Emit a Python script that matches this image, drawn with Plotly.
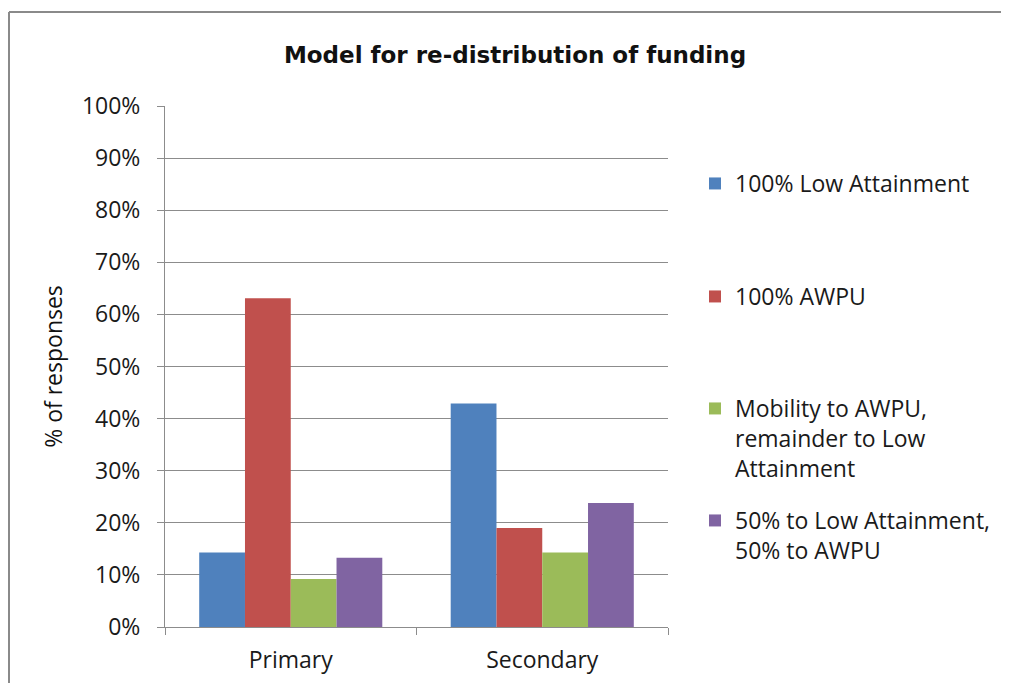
import plotly.graph_objects as go

categories = ["Primary", "Secondary"]
series_names = [
    "100% Low Attainment",
    "100% AWPU",
    "Mobility to AWPU,<br>remainder to Low<br>Attainment",
    "50% to Low Attainment,<br>50% to AWPU",
]
low_attainment = [14.3, 42.9]
awpu = [63.1, 19.0]
mobility = [9.2, 14.3]
fifty_fifty = [13.3, 23.8]
colors = ["#4F81BD", "#C0504D", "#9BBB59", "#8064A2"]
y_ticks = [0, 10, 20, 30, 40, 50, 60, 70, 80, 90, 100]
y_tick_labels = [f"{v}%" for v in y_ticks]

FONT = "Open Sans"
TITLE_FONT = "DejaVu Sans"
values = [low_attainment, awpu, mobility, fifty_fifty]
legend_ids = ["legend", "legend2", "legend3", "legend4"]

# the page body has an 8px margin; lay out in page pixels and shift
OFF = 8
PAGE_W, PAGE_H = 1009, 683
W, H = PAGE_W - OFF, PAGE_H - OFF
L, R, T, B = 165 - OFF, 668 - OFF, 106 - OFF, 627 - OFF
legend_tops = [162 - OFF, 275 - OFF, 387 - OFF, 499 - OFF]

fig = go.Figure()
for name, vals, col, lg in zip(series_names, values, colors, legend_ids):
    fig.add_trace(go.Bar(
        x=categories, y=vals, name=name, legend=lg,
        marker=dict(color=col, line=dict(color=col, width=0)),
    ))

legend_common = dict(
    font=dict(family=FONT, size=23, color="#1a1a1a"),
    xref="container", yref="container",
    xanchor="left", yanchor="top",
    bgcolor="rgba(0,0,0,0)", borderwidth=0,
    valign="top", itemwidth=30,
)
layout_legends = {}
for lg, top in zip(legend_ids, legend_tops):
    layout_legends[lg] = dict(legend_common, x=(695 - OFF) / W, y=1 - top / H)

fig.update_layout(
    width=W, height=H,
    margin=dict(l=L, r=W - R, t=T, b=H - B, pad=0, autoexpand=False),
    paper_bgcolor="white", plot_bgcolor="white",
    barmode="group", bargap=0.272, bargroupgap=0,
    showlegend=True,
    title=dict(
        text="<b>Model for re-distribution of funding</b>",
        font=dict(family=TITLE_FONT, size=23, color="#111111"),
        x=(515 - OFF) / W, xanchor="center", y=1 - (55 - OFF) / H, yanchor="middle",
    ),
    font=dict(family=FONT, color="#1a1a1a"),
    **layout_legends,
)

fig.update_xaxes(
    type="category", tickson="boundaries", automargin=False,
    showline=True, linecolor="#8c8c8c", linewidth=1,
    ticks="outside", ticklen=7, tickcolor="#8c8c8c",
    tickfont=dict(family=FONT, size=23, color="#1a1a1a"),
    ticklabelstandoff=12,
    showgrid=False, zeroline=False,
)
fig.update_yaxes(
    range=[0, 100], tickvals=y_ticks, ticktext=y_tick_labels, automargin=False,
    showline=True, linecolor="#8c8c8c", linewidth=1,
    ticks="outside", ticklen=7, tickcolor="#8c8c8c",
    tickfont=dict(family=FONT, size=23, color="#1a1a1a"),
    ticklabelstandoff=12,
    showgrid=True, gridcolor="#8c8c8c", gridwidth=1,
    zeroline=False,
    title=dict(text="% of responses", font=dict(family=FONT, size=23, color="#111111"), standoff=12),
)

# chart-area border (top and left edges visible in the reference)
px2x = lambda px: (px - L) / (R - L)
py2y = lambda py: (B - py) / (B - T)
fig.add_shape(type="line", xref="paper", yref="paper",
              x0=px2x(1), x1=px2x(W + 5), y0=py2y(12 - OFF), y1=py2y(12 - OFF),
              line=dict(color="#8a8a8a", width=2))
fig.add_shape(type="line", xref="paper", yref="paper",
              x0=px2x(1), x1=px2x(1), y0=py2y(12 - OFF), y1=py2y(H + 5),
              line=dict(color="#8a8a8a", width=2))

fig.write_html("out.html")
